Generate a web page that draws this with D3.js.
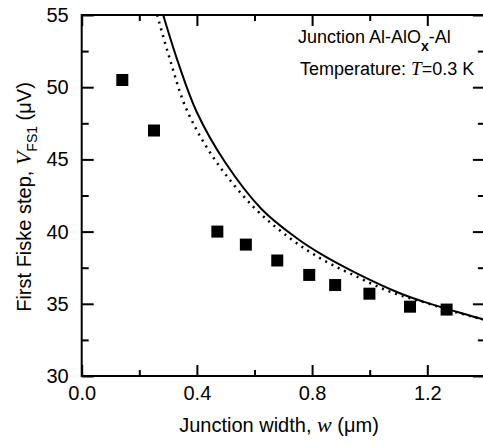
<!DOCTYPE html>
<html>
<head>
<meta charset="utf-8">
<script src="https://cdn.jsdelivr.net/npm/d3@7"></script>
<style>
  body { margin: 0; background: #fff; }
  svg { display: block; font-family: "Liberation Sans", Arial, sans-serif; }
</style>
</head>
<body>
<svg id="drawing_region"></svg>
<script>
// measured points (squares)
var widths = [0.141, 0.251, 0.471, 0.570, 0.679, 0.790, 0.880, 0.999, 1.140, 1.267];
var steps  = [50.5, 47.0, 40.0, 39.1, 38.0, 37.0, 36.3, 35.7, 34.8, 34.6];

// solid theory curve
var solidW = [0.283, 0.335, 0.399, 0.498, 0.625, 0.747, 0.839, 0.955, 1.105, 1.186, 1.302, 1.393, 1.40];
var solidV = [55.0, 51.7, 48.3, 44.8, 41.55, 39.54, 38.35, 37.11, 35.73, 35.15, 34.45, 33.93, 33.9];

// dotted curve
var dotW = [0.262, 0.307, 0.365, 0.463, 0.596, 0.723, 0.839, 0.955, 1.070, 1.19, 1.30, 1.40];
var dotV = [55.0, 51.88, 48.42, 44.96, 41.72, 39.54, 38.03, 36.88, 35.84, 35.10, 34.42, 33.88];

var xMajor = [0.0, 0.4, 0.8, 1.2];
var xMinor = [0.2, 0.6, 1.0];
var yMajor = [30, 35, 40, 45, 50, 55];
var yMinor = [32.5, 37.5, 42.5, 47.5, 52.5];

var config = {
  width: 483,
  height: 445,
  margin: {top: 15, left: 81.7},
  inner_width: 403.2,
  inner_height: 361
};

var svg = d3.select('#drawing_region')
  .attr('width', config.width)
  .attr('height', config.height);

var chart = svg.append('g')
  .attr('transform', `translate(${config.margin.left}, ${config.margin.top})`);

var xscale = d3.scaleLinear().domain([0, 1.4]).range([0, config.inner_width]);
var yscale = d3.scaleLinear().domain([30, 55]).range([config.inner_height, 0]);

chart.append('clipPath').attr('id', 'clip')
  .append('rect').attr('width', config.inner_width).attr('height', config.inner_height);

// axes: ticks point inward
function styleAxis(g) {
  g.select('.domain').remove();
  g.selectAll('line').attr('stroke', '#000').attr('stroke-width', 2);
  g.selectAll('text').attr('font-size', 20).attr('fill', '#000');
}

chart.append('g')
  .attr('transform', `translate(0, ${config.inner_height})`)
  .call(d3.axisBottom(xscale).tickValues(xMajor).tickFormat(d3.format('.1f')).tickSizeInner(-11).tickSizeOuter(0).tickPadding(10))
  .call(styleAxis);
chart.append('g')
  .attr('transform', `translate(0, ${config.inner_height})`)
  .call(d3.axisBottom(xscale).tickValues(xMinor).tickFormat('').tickSizeInner(-6).tickSizeOuter(0))
  .call(styleAxis);
chart.append('g')
  .call(d3.axisTop(xscale).tickValues(xMajor).tickFormat('').tickSizeInner(-11).tickSizeOuter(0))
  .call(styleAxis);
chart.append('g')
  .call(d3.axisTop(xscale).tickValues(xMinor).tickFormat('').tickSizeInner(-6).tickSizeOuter(0))
  .call(styleAxis);

chart.append('g')
  .call(d3.axisLeft(yscale).tickValues(yMajor).tickFormat(d3.format('d')).tickSizeInner(-12).tickSizeOuter(0).tickPadding(13))
  .call(styleAxis);
chart.append('g')
  .call(d3.axisLeft(yscale).tickValues(yMinor).tickFormat('').tickSizeInner(-7).tickSizeOuter(0))
  .call(styleAxis);
chart.append('g')
  .attr('transform', `translate(${config.inner_width}, 0)`)
  .call(d3.axisRight(yscale).tickValues(yMajor).tickFormat('').tickSizeInner(-12).tickSizeOuter(0))
  .call(styleAxis);
chart.append('g')
  .attr('transform', `translate(${config.inner_width}, 0)`)
  .call(d3.axisRight(yscale).tickValues(yMinor).tickFormat('').tickSizeInner(-7).tickSizeOuter(0))
  .call(styleAxis);

chart.append('rect')
  .attr('width', config.inner_width)
  .attr('height', config.inner_height)
  .attr('fill', 'none')
  .attr('stroke', '#000')
  .attr('stroke-width', 2);

// curves
var line = d3.line()
  .x(d => xscale(d[0]))
  .y(d => yscale(d[1]))
  .curve(d3.curveCatmullRom.alpha(0.5));

chart.append('path')
  .datum(d3.zip(dotW, dotV))
  .attr('clip-path', 'url(#clip)')
  .attr('d', line)
  .attr('fill', 'none')
  .attr('stroke', '#000')
  .attr('stroke-width', 2.5)
  .attr('stroke-dasharray', '2,5');

chart.append('path')
  .datum(d3.zip(solidW, solidV))
  .attr('clip-path', 'url(#clip)')
  .attr('d', line)
  .attr('fill', 'none')
  .attr('stroke', '#000')
  .attr('stroke-width', 2);

// squares
var sq = 12;
chart.selectAll('rect.pt')
  .data(d3.zip(widths, steps))
  .enter()
  .append('rect')
  .attr('class', 'pt')
  .attr('x', d => xscale(d[0]) - sq / 2)
  .attr('y', d => yscale(d[1]) - sq / 2)
  .attr('width', sq)
  .attr('height', sq)
  .attr('fill', '#000');

// labels
var xl = svg.append('text')
  .attr('x', 279).attr('y', 432)
  .attr('text-anchor', 'middle')
  .attr('font-size', 20);
xl.append('tspan').text('Junction width, ');
xl.append('tspan').attr('font-family', '"Liberation Serif", serif').attr('font-style', 'italic').attr('font-size', 22).text('w');
xl.append('tspan').text(' (\u03bcm)');

var yl = svg.append('text')
  .attr('transform', 'translate(31, 197) rotate(-90)')
  .attr('text-anchor', 'middle')
  .attr('font-size', 20);
yl.append('tspan').text('First Fiske step, ');
yl.append('tspan').attr('font-family', '"Liberation Serif", serif').attr('font-style', 'italic').attr('font-size', 22).text('V');
yl.append('tspan').attr('font-size', 14).attr('dy', 6).text('FS1');
yl.append('tspan').attr('dy', -6).text(' (\u03bcV)');

var t1 = svg.append('text')
  .attr('x', 298).attr('y', 43)
  .attr('font-size', 18);
t1.append('tspan').text('Junction Al-AlO');
t1.append('tspan').attr('font-size', 14).attr('font-weight', 'bold').attr('dy', 8).text('x');
t1.append('tspan').attr('dy', -8).text('-Al');

var t2 = svg.append('text')
  .attr('x', 300).attr('y', 75)
  .attr('font-size', 18);
t2.append('tspan').text('Temperature: ');
t2.append('tspan').attr('font-family', '"Liberation Serif", serif').attr('font-style', 'italic').attr('font-size', 19).text('T');
t2.append('tspan').text('=0.3 K');
</script>
</body>
</html>
